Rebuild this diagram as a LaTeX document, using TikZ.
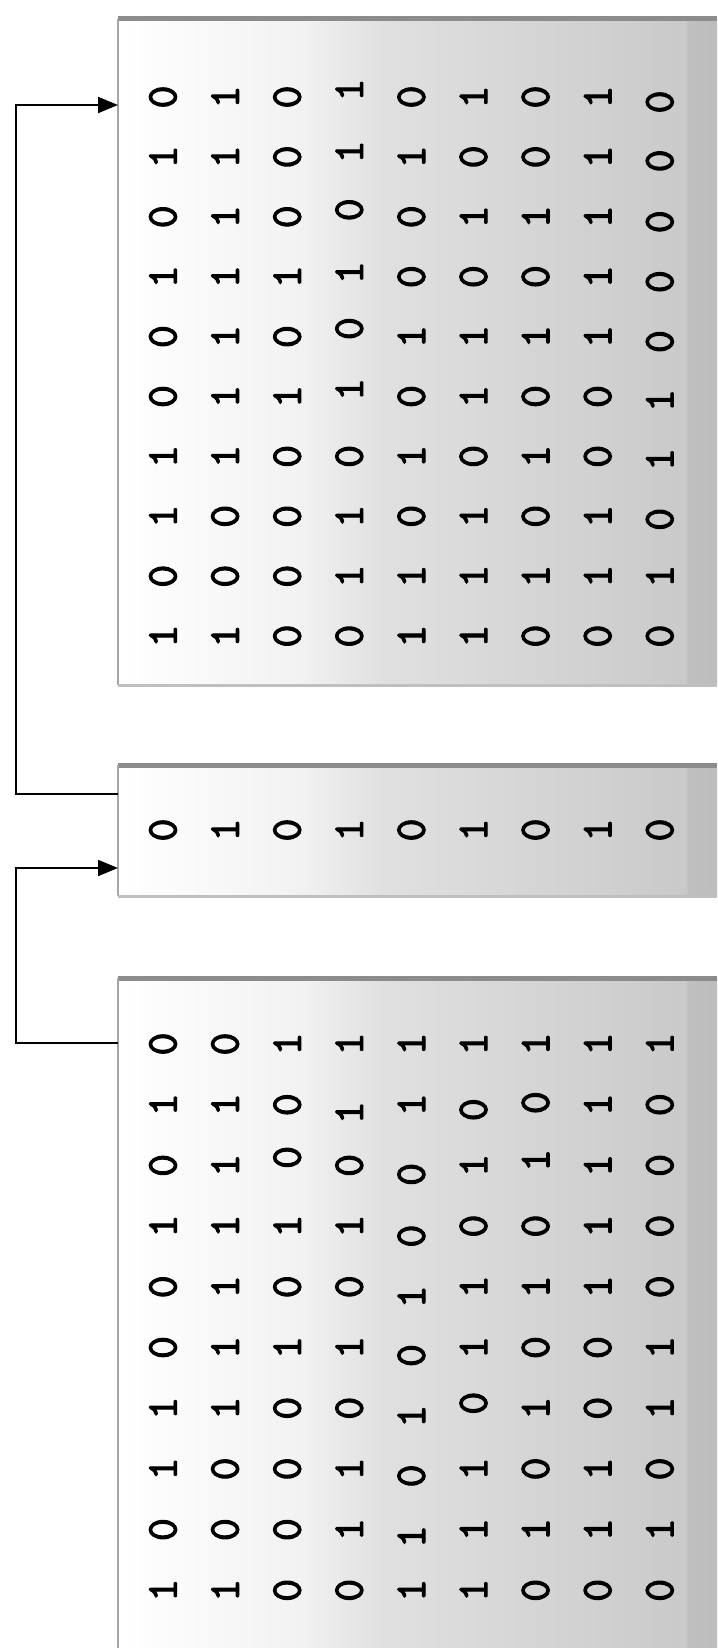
\documentclass[tikz,border=0pt]{standalone}
\usepackage{fontspec}
\newfontfamily\digfont{lmmono10-regular.otf}[FakeBold=2.2]
\usetikzlibrary{arrows.meta,calc}
\pgfdeclarehorizontalshading{boxshade}{100bp}{color(0bp)=(white); color(25bp)=(white); color(40bp)=(black!5); color(47bp)=(black!12); color(70bp)=(black!20); color(72.3bp)=(black!21); color(72.6bp)=(black!25); color(75bp)=(black!26); color(100bp)=(black!26)}
\tikzset{
  panel/.style={shade, shading=boxshade, rectangle, inner sep=0pt, anchor=north west},
  topedge/.style={line width=5pt, black!45},
  sideedge/.style={line width=1.5pt, black!35},
  lowedge/.style={line width=2.5pt, black!25},
  dig/.style={rotate=90, inner sep=0pt, font=\digfont\fontsize{44}{44}\selectfont},
  arr/.style={line width=2pt, -{Triangle[length=20pt,width=16pt]}},
  lnk/.style={line width=2pt}
}
\begin{document}
\begin{tikzpicture}[x=1pt,y=-1pt]
\useasboundingbox (0,0) rectangle (717,1648);
\clip (0,0) rectangle (717,1648);
\fill[white] (0,0) rectangle (717,1648);
% boxes
\node[panel, minimum width=599pt, minimum height=666pt] (top) at (118,19) {};
\node[panel, minimum width=599pt, minimum height=131pt] (mid) at (118,765) {};
\node[panel, minimum width=599pt, minimum height=690pt] (bot) at (118,978) {};
\foreach \b in {top,mid,bot}{
  \draw[topedge] (\b.north west) -- (\b.north east);
  \draw[sideedge] (\b.north west) -- (\b.south west);
}
\draw[lowedge] (top.south west) -- (top.south east);
\draw[lowedge] (mid.south west) -- (mid.south east);
% top matrix
\foreach \row [count=\j from 0] in {
 {0/0,1/0,0/0,1/-7,0/0,1/0,0/0,1/0,0/5},
 {1/0,1/0,0/0,1/-5,1/0,0/0,0/0,1/0,0/4},
 {0/0,1/0,0/0,0/-7,0/0,1/0,1/0,1/0,0/5},
 {1/0,1/0,1/0,1/-4,0/0,0/0,0/0,1/0,0/5},
 {0/0,1/0,0/0,0/-8,1/0,1/0,1/0,1/0,0/5},
 {0/0,1/0,1/0,1/-7,0/0,1/0,0/0,0/0,1/4},
 {1/0,1/0,0/0,0/0,1/0,0/0,1/0,0/0,1/3},
 {1/0,0/0,0/0,1/0,0/0,1/0,0/0,1/0,0/3},
 {0/0,0/0,0/0,1/0,1/0,1/0,1/0,1/0,1/0},
 {1/0,1/0,0/0,0/0,1/0,1/0,0/0,0/0,0/0}}{
  \foreach \d/\o [count=\k from 0] in \row {
    \node[dig] (t-\j-\k) at ({163+62.1*\k},{97+59.9*\j+\o}) {\d};
  }
}
% middle vector
\foreach \d [count=\k from 0] in {0,1,0,1,0,1,0,1,0}{
  \node[dig] (m-\k) at ({163+62.1*\k},830) {\d};
}
% bottom matrix
\foreach \row [count=\j from 0] in {
 {0/0,0/0,1/0,1/0,1/0,1/0,1/0,1/0,1/0},
 {1/0,1/0,0/0,1/8,1/0,0/5,0/-2,1/0,0/0},
 {0/0,1/0,0/-8,0/0,0/9,1/0,1/-5,1/0,0/0},
 {1/0,1/0,1/0,1/0,0/10,0/0,0/0,1/0,0/0},
 {0/0,1/0,0/0,0/0,1/10,1/0,1/0,1/0,0/0},
 {0/0,1/0,1/0,1/0,0/8,1/0,0/0,0/0,1/0},
 {1/0,1/0,0/0,0/0,1/8,0/-5,1/0,0/0,1/0},
 {1/0,0/0,0/0,1/0,0/7,1/0,0/0,1/0,0/0},
 {0/0,0/0,0/0,1/0,1/7,1/0,1/0,1/0,1/0},
 {1/0,1/0,0/0,0/0,1/0,1/0,0/0,0/0,0/0}}{
  \foreach \d/\o [count=\k from 0] in \row {
    \node[dig] (b-\j-\k) at ({163+62.1*\k},{1044+60.7*\j+\o}) {\d};
  }
}
% connectors
\coordinate (lx) at (16,0);
\coordinate (a1s) at ([yshift=-29pt]mid.north west);
\coordinate (a1e) at ([yshift=-86pt]top.north west);
\coordinate (a2s) at ([yshift=-65pt]bot.north west);
\coordinate (a2e) at ([yshift=-103pt]mid.north west);
\draw[arr] (a1s) -- (a1s -| lx) |- (a1e);
\draw[arr] (a2s) -- (a2s -| lx) |- (a2e);
\end{tikzpicture}
\end{document}
